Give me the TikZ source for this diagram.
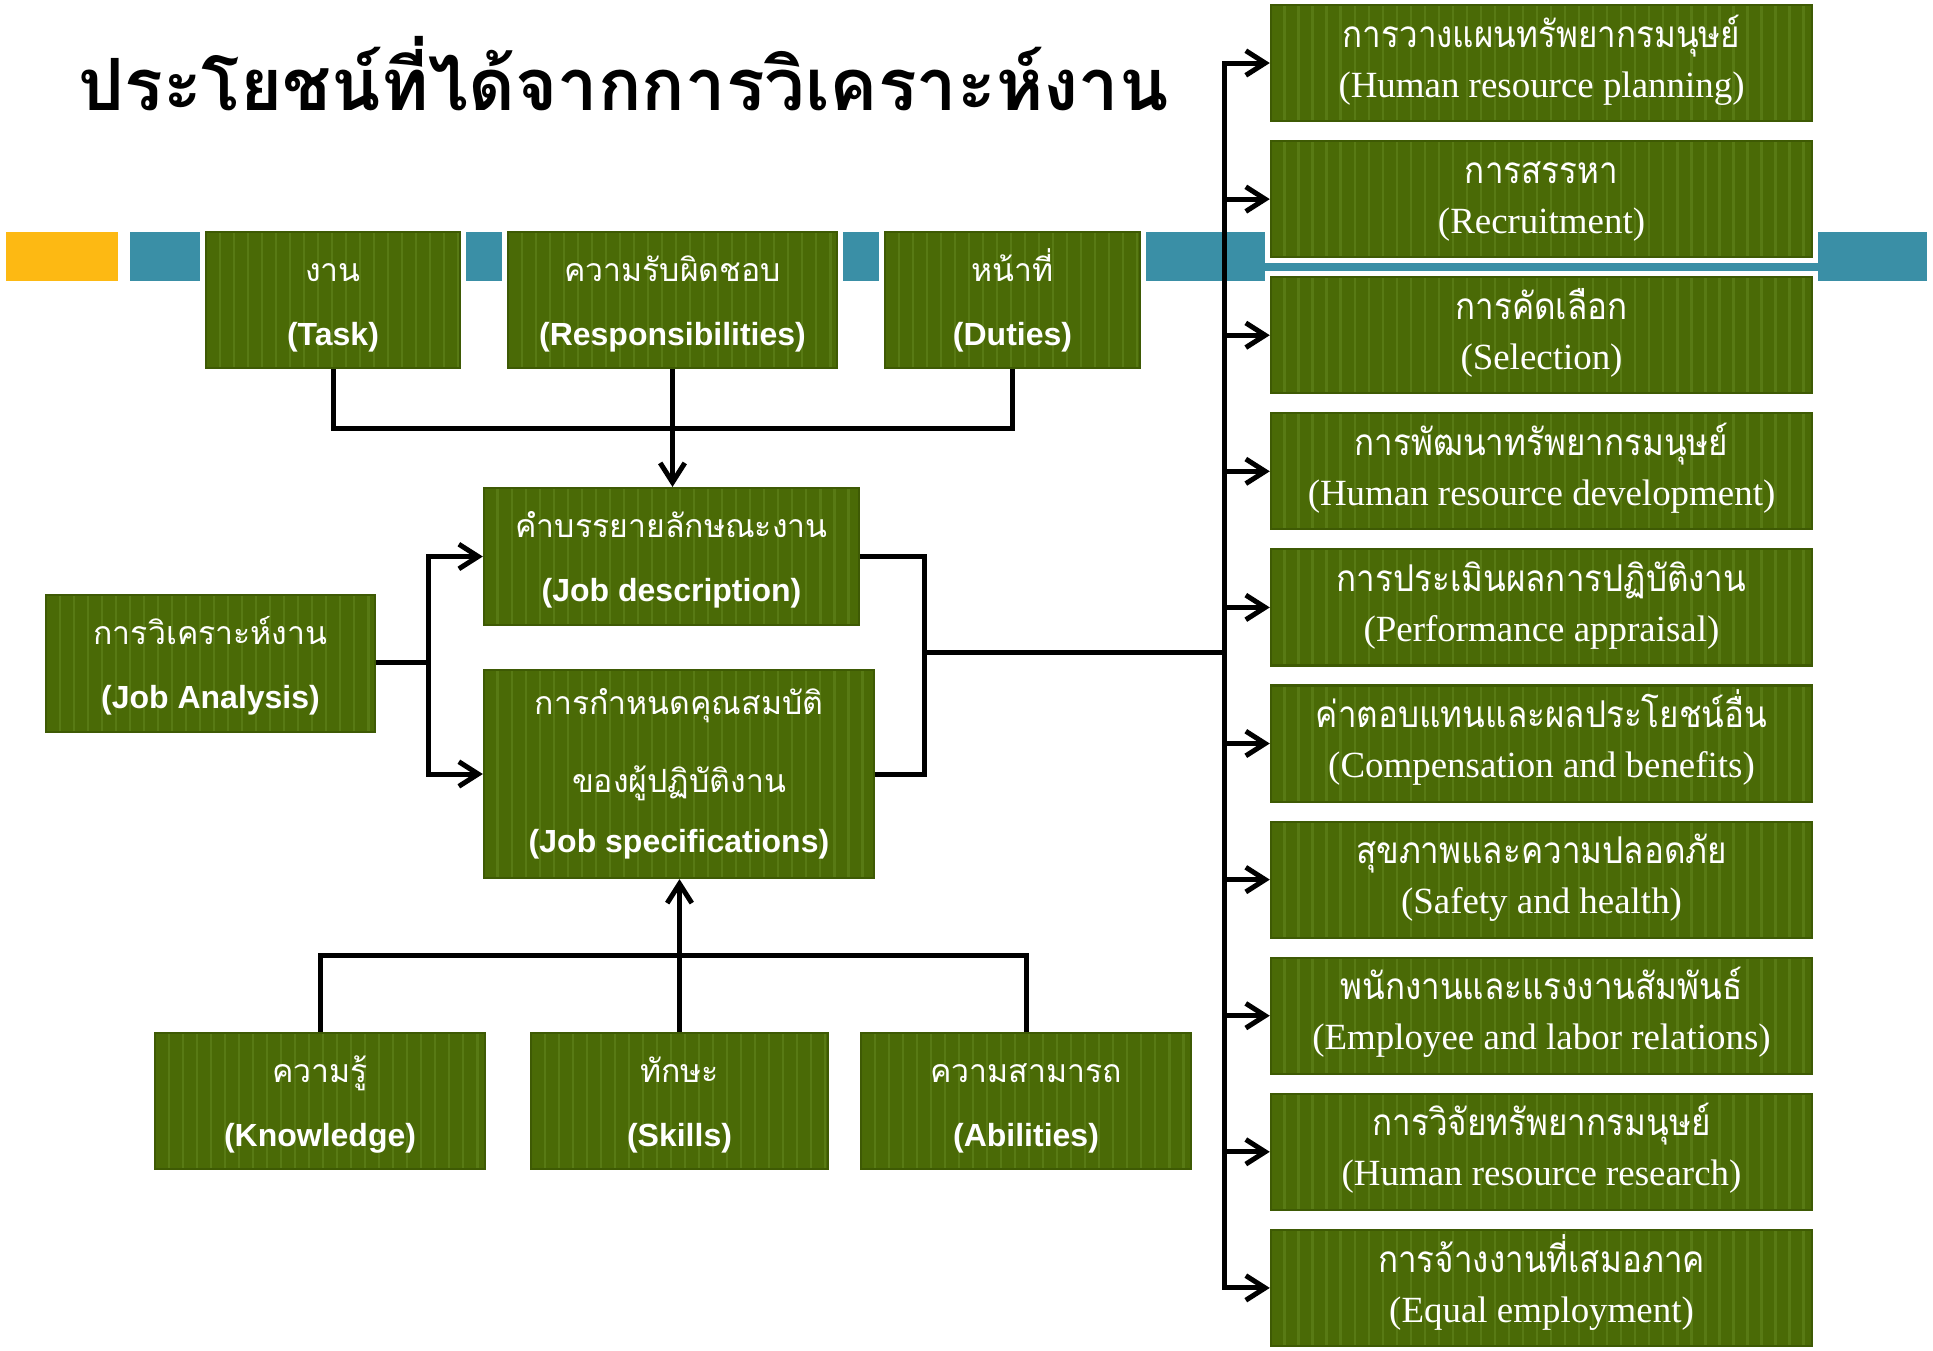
\documentclass[tikz,border=0pt]{standalone}
\usepackage{fontspec}
\setmainfont{Liberation Serif}
\newfontfamily\thai[Script=Thai]{Loma}
\newfontfamily\thainarrow[Script=Thai, FakeStretch=0.9]{Loma}
\newfontfamily\ensans{Liberation Sans}
\newfontfamily\enserif{Liberation Serif}
\usetikzlibrary{arrows.meta}

\definecolor{boxgreen}{HTML}{4A6A06}
\definecolor{stripegreen}{HTML}{587A14}
\definecolor{edgegreen}{HTML}{3E5A04}
\definecolor{bandteal}{HTML}{3A8FA6}
\definecolor{bandgold}{HTML}{FDB913}

\tikzset{
  gbox/.style={fill=boxgreen, draw=edgegreen, line width=0.6pt, inner sep=0pt,
    align=center, text=white,
    preaction={draw=white, line width=3.4pt},
    path picture={
      \foreach \k in {1,...,45}{
        \draw[stripegreen, line width=0.8pt]
          ([xshift=\k*0.14cm]path picture bounding box.south west) --
          ([xshift=\k*0.14cm]path picture bounding box.north west);
      }}},
  leftbox/.style={gbox, font=\fontsize{9.1pt}{18.2pt}\selectfont},
  rightbox/.style={gbox, minimum width=5.41cm, minimum height=1.16cm,
    font=\fontsize{10.5pt}{14.2pt}\selectfont\enserif},
  conn/.style={line width=1.42pt, black},
  arr/.style={conn, -{Straight Barb[length=5.5pt, width=7pt]}},
}
% Thai lines carry a strut as tall as the highest stacked marks,
% so every box centres its lines the same way
\newcommand{\thl}[1]{{\thai\vphantom{ที่}#1}}
\newcommand{\enb}[1]{{\ensans\bfseries #1}}
\newcommand{\thr}[1]{{\thainarrow\fontsize{10.5pt}{14.2pt}\selectfont\vphantom{ที่}#1}}
% extra depth under a last line lifts the whole block a little
\newcommand{\lift}[1]{\rule[-#1]{0pt}{1pt}}

\begin{document}
\begin{tikzpicture}[x=0.01cm, y=-0.01cm]
  \useasboundingbox (0,0) rectangle (1933,1350);

  % heading
  \node[anchor=base west, inner sep=0pt, font=\thai\bfseries\fontsize{20.5pt}{25pt}\selectfont]
    (title) at (78,110) {ประโยชน์ที่ได้จากการวิเคราะห์งาน};

  % decorative band
  \fill[bandgold] (6,232) rectangle (118,281);
  \fill[bandteal] (130,232) rectangle (1927,281);

  % job content boxes
  \node[leftbox, minimum width=2.54cm, minimum height=1.36cm] (task) at (333,300)
    {\thl{งาน}\\\enb{(Task)}};
  \node[leftbox, minimum width=3.29cm, minimum height=1.36cm] (resp) at (672.5,300)
    {\thl{ความรับผิดชอบ}\\\enb{(Responsibilities)}};
  \node[leftbox, minimum width=2.55cm, minimum height=1.36cm] (duties) at (1012.5,300)
    {\thl{หน้าที่}\\\enb{(Duties)}};

  % analysis and its outputs
  \node[leftbox, minimum width=3.29cm, minimum height=1.37cm] (ja) at (210.5,663.5)
    {\thl{การวิเคราะห์งาน}\\\enb{(Job Analysis)}};
  \node[leftbox, minimum width=3.75cm, minimum height=1.37cm] (jd) at (671.5,556.5)
    {\thl{คำบรรยายลักษณะงาน}\\\enb{(Job description)}};
  \node[leftbox, minimum width=3.90cm, minimum height=2.08cm] (js) at (679,774)
    {\thl{การกำหนดคุณสมบัติ}\\[4pt]\thl{ของผู้ปฏิบัติงาน}\\[-1.2pt]\enb{(Job specifications)}\lift{4pt}};

  % worker attributes
  \node[leftbox, minimum width=3.30cm, minimum height=1.36cm] (know) at (320,1101)
    {\thl{ความรู้}\\\enb{(Knowledge)}};
  \node[leftbox, minimum width=2.97cm, minimum height=1.36cm] (skills) at (679.5,1101)
    {\thl{ทักษะ}\\\enb{(Skills)}};
  \node[leftbox, minimum width=3.30cm, minimum height=1.36cm] (abil) at (1026,1101)
    {\thl{ความสามารถ}\\\enb{(Abilities)}};

  % HR functions
  \foreach \th/\en [count=\i from 0] in {
      การวางแผนทรัพยากรมนุษย์/(Human resource planning),
      การสรรหา/(Recruitment),
      การคัดเลือก/(Selection),
      การพัฒนาทรัพยากรมนุษย์/(Human resource development),
      การประเมินผลการปฏิบัติงาน/(Performance appraisal),
      ค่าตอบแทนและผลประโยชน์อื่น/(Compensation and benefits),
      สุขภาพและความปลอดภัย/(Safety and health),
      พนักงานและแรงงานสัมพันธ์/(Employee and labor relations),
      การวิจัยทรัพยากรมนุษย์/(Human resource research),
      การจ้างงานที่เสมอภาค/(Equal employment)}{
    \node[rightbox] (r\i) at (1541.5,{63+136.1*\i}) {\thr{\th}\\\en\lift{5.6pt}};
  }

  % junction points
  \coordinate (topbus) at (672,428);
  \coordinate (jsplit) at (428,662);
  \coordinate (jmerge) at (924,652);
  \coordinate (bus) at (1224,652);
  \coordinate (botbus) at (679,955);

  % connectors
  \draw[conn] (task.south) |- (topbus) -| (duties.south);
  \draw[arr] (resp.south) -- (resp.south |- jd.north);

  \draw[conn] (ja.east |- jsplit) -- (jsplit);
  \draw[arr] (jsplit) |- (jd.west);
  \draw[arr] (jsplit) |- (js.west);

  \draw[conn] (jd.east) -| (jmerge);
  \draw[conn] (js.east) -| (jmerge);
  \draw[conn] (jmerge) -- (bus);

  \draw[arr] (bus) |- (r0.west);
  \draw[arr] (bus) |- (r9.west);
  \foreach \i in {1,...,8}{
    \draw[arr] (bus |- r\i.west) -- (r\i.west);
  }

  \draw[conn] (know.north) |- (botbus) -| (abil.north);
  \draw[arr] (skills.north) -- (skills.north |- js.south);
\end{tikzpicture}
\end{document}
